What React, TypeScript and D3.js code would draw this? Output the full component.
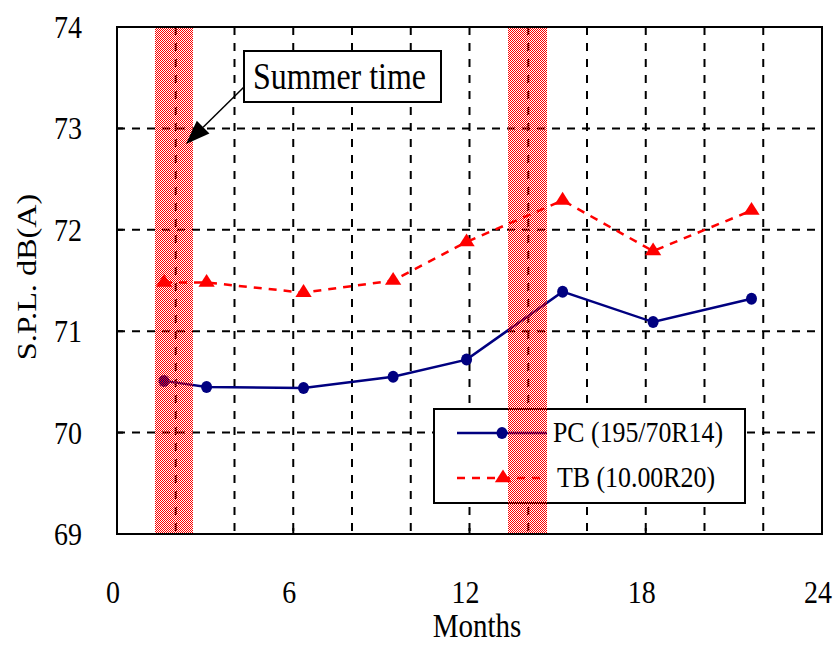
import React from "react";
import * as d3 from "d3";

// ---- data ----
const months = [1.6, 3.05, 6.35, 9.4, 11.9, 15.17, 18.25, 21.6];
const pcValues = [70.51, 70.45, 70.44, 70.55, 70.72, 71.39, 71.09, 71.32];
const tbValues = [71.48, 71.48, 71.38, 71.5, 71.88, 72.29, 71.79, 72.19];
const xTicks = [0, 6, 12, 18, 24];
const yTicks = [69, 70, 71, 72, 73, 74];
const xGridLines = [2, 4, 6, 8, 10, 12, 14, 16, 18, 20, 22];
const yGridLines = [70, 71, 72, 73];
const summerBands: [number, number][] = [
  [1.3, 2.6],
  [13.3, 14.65],
];
const seriesNames = ["PC (195/70R14)", "TB (10.00R20)"];
const xTitle = "Months";
const yTitle = "S.P.L. dB(A)";
const noteText = "Summer time";

const W = 836;
const H = 645;
const FONT = "'Liberation Serif', 'Times New Roman', serif";
const SY = 1.15; // vertical stretch of the text

export default function App() {
  const x = d3.scaleLinear().domain([0, 24]).range([117, 822]);
  const y = d3.scaleLinear().domain([69, 74]).range([534, 27]);
  const left = x(0), right = x(24), top = y(74), bottom = y(69);

  const pcPts = months.map((m, i) => [x(m), y(pcValues[i])] as [number, number]);
  const tbPts = months.map((m, i) => [x(m), y(tbValues[i])] as [number, number]);
  const line = d3.line().curve(d3.curveLinear);
  const tri = d3.symbol().type(d3.symbolTriangle).size(95)()!;

  const stretched = (tx: number, ty: number) =>
    `translate(${tx},${ty}) scale(1,${SY})`;

  // arrow geometry
  const aStart: [number, number] = [244, 87];
  const aTip: [number, number] = [186, 144];
  const ang = Math.atan2(aTip[1] - aStart[1], aTip[0] - aStart[0]);
  const aLen = 24, aHalf = 9;
  const bx = aTip[0] - aLen * Math.cos(ang), by = aTip[1] - aLen * Math.sin(ang);
  const px = -Math.sin(ang) * aHalf, py = Math.cos(ang) * aHalf;
  const arrowHead = `M${aTip[0]},${aTip[1]}L${bx + px},${by + py}L${bx - px},${by - py}Z`;

  // legend geometry
  const lgX = 434, lgY = 409, lgW = 311, lgH = 94;
  const lgRow1 = 433, lgRow2 = 478;

  return (
    <div style={{ position: "fixed", left: 0, top: 0 }}>
      <svg width={W} height={H} style={{ display: "block", background: "#fff" }}>
        <defs>
          <pattern id="summerPat" patternUnits="userSpaceOnUse" x={0} y={0} width={2} height={2}>
            <rect x={0} y={0} width={1} height={1} fill="#ff0000" />
            <rect x={1} y={1} width={1} height={1} fill="#ff0000" />
          </pattern>
        </defs>
        <rect x={0} y={0} width={W} height={H} fill="#fff" />

        {/* grid */}
        {yGridLines.map((v) => (
          <line key={"h" + v} x1={left} x2={right} y1={y(v)} y2={y(v)}
            stroke="#000" strokeWidth={2} strokeDasharray="8,7" />
        ))}
        {xGridLines.map((v) => (
          <line key={"v" + v} x1={x(v)} x2={x(v)} y1={top} y2={bottom}
            stroke="#000" strokeWidth={2} strokeDasharray="8,8" />
        ))}

        {/* TB series */}
        <path d={line(tbPts)!} fill="none" stroke="#ff0000" strokeWidth={2.5} strokeDasharray="8,7" />
        {tbPts.map((p, i) => (
          <path key={"t" + i} d={tri} transform={`translate(${p[0]},${p[1]}) scale(1.1,1)`} fill="#ff0000" />
        ))}

        {/* PC series */}
        <path d={line(pcPts)!} fill="none" stroke="#000080" strokeWidth={2.5} />
        {pcPts.map((p, i) => (
          <ellipse key={"p" + i} cx={p[0]} cy={p[1]} rx={5.5} ry={6} fill="#000080" />
        ))}

        {/* legend */}
        <rect x={lgX} y={lgY} width={lgW} height={lgH} fill="#fff" stroke="#000" strokeWidth={2} />
        <line x1={457} x2={547} y1={lgRow1} y2={lgRow1} stroke="#000080" strokeWidth={2.5} />
        <ellipse cx={502} cy={lgRow1} rx={5.5} ry={6} fill="#000080" />
        <line x1={457} x2={547} y1={lgRow2} y2={lgRow2} stroke="#ff0000" strokeWidth={2.5} strokeDasharray="8,7" />
        <path d={tri} transform={`translate(503,${lgRow2}) scale(1.1,1)`} fill="#ff0000" />
        <text transform={stretched(553, lgRow1 + 9)} fontFamily={FONT} fontSize={26}
          textLength={170} lengthAdjust="spacingAndGlyphs">{seriesNames[0]}</text>
        <text transform={stretched(557, lgRow2 + 9)} fontFamily={FONT} fontSize={26}
          textLength={158} lengthAdjust="spacingAndGlyphs">{seriesNames[1]}</text>

        {/* summer bands */}
        {summerBands.map((b, i) => {
          const x0 = Math.round(x(b[0])), x1 = Math.round(x(b[1]));
          return <rect key={"b" + i} x={x0} y={Math.round(top)} width={x1 - x0}
            height={Math.round(bottom - top)} fill="url(#summerPat)" />;
        })}

        {/* summer time note */}
        <line x1={aStart[0]} y1={aStart[1]} x2={bx} y2={by} stroke="#000" strokeWidth={1.5} />
        <path d={arrowHead} fill="#000" />
        <rect x={244} y={51} width={197} height={51} fill="#fff" stroke="#000" strokeWidth={2} />
        <text transform={`translate(253,89) scale(1,1.18)`} fontFamily={FONT} fontSize={32}
          textLength={173} lengthAdjust="spacingAndGlyphs">{noteText}</text>

        {/* plot border */}
        <rect x={left} y={top} width={right - left} height={bottom - top} fill="none" stroke="#000" strokeWidth={2} />
        {xTicks.map((v) => (
          <line key={"xt" + v} x1={x(v)} x2={x(v)} y1={bottom} y2={bottom - 6} stroke="#000" strokeWidth={2} />
        ))}
        {yTicks.map((v) => (
          <line key={"yt" + v} x1={left} x2={left + 6} y1={y(v)} y2={y(v)} stroke="#000" strokeWidth={2} />
        ))}

        {/* axis labels */}
        {yTicks.map((v) => (
          <text key={"yl" + v} transform={stretched(82, y(v) + 11)} fontFamily={FONT} fontSize={28}
            textAnchor="end">{v}</text>
        ))}
        {xTicks.map((v) => (
          <text key={"xl" + v} transform={stretched(x(v) - 4, 603)} fontFamily={FONT} fontSize={28}
            textAnchor="middle">{v}</text>
        ))}
        <text transform={stretched(477, 637)} fontFamily={FONT} fontSize={29} textAnchor="middle">{xTitle}</text>
        <text transform={`translate(36,277) rotate(-90) scale(${SY},1)`} fontFamily={FONT} fontSize={28}
          textAnchor="middle">{yTitle}</text>
      </svg>
    </div>
  );
}
